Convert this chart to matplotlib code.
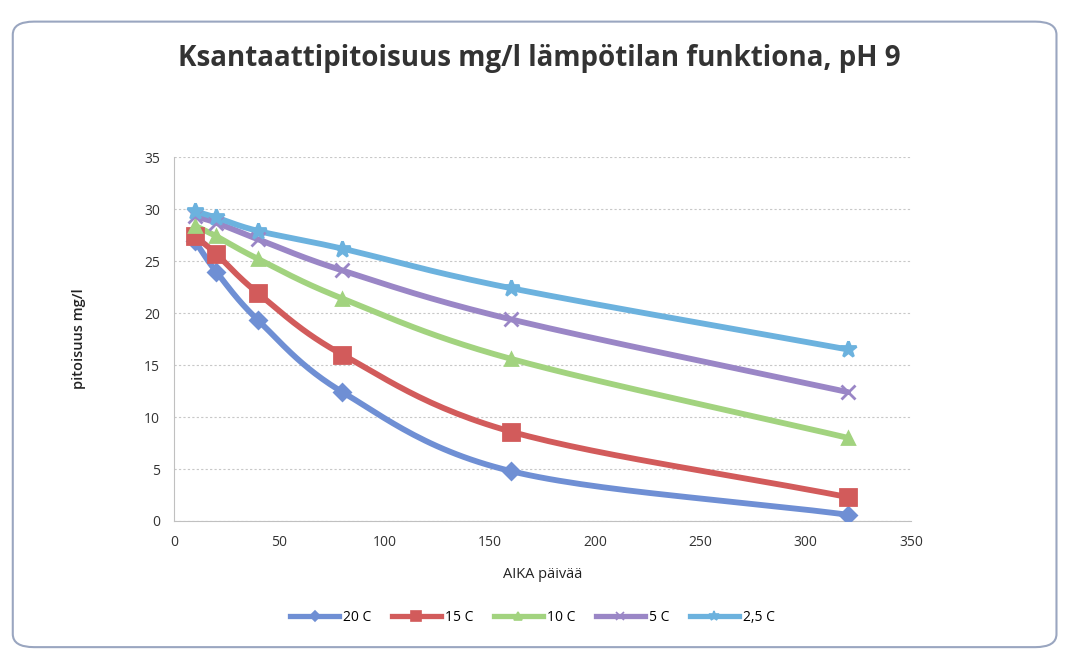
import numpy as np
import matplotlib
matplotlib.use("Agg")
import matplotlib.pyplot as plt
from matplotlib.patches import FancyBboxPatch
from matplotlib.lines import Line2D

plt.rcParams['font.family'] = ['Open Sans', 'DejaVu Sans']

# data
days = [10, 20, 40, 80, 160, 320]
labels = ["20 C", "15 C", "10 C", "5 C", "2,5 C"]
c20 = [26.9, 24.0, 19.3, 12.4, 4.8, 0.6]
c15 = [27.4, 25.7, 21.9, 16.0, 8.6, 2.3]
c10 = [28.4, 27.4, 25.2, 21.4, 15.6, 8.0]
c5 = [29.3, 28.7, 27.1, 24.1, 19.4, 12.4]
c2_5 = [29.8, 29.2, 27.9, 26.2, 22.4, 16.5]

series = [c20, c15, c10, c5, c2_5]
colors = ["#6f8fd4", "#d25b5b", "#a2d37f", "#9a86c6", "#6cb2de"]
markers = ["D", "s", "^", "x", "*"]
msizes = [8, 11, 9, 10, 12]


def smooth(x, y, n=30):
    # catmull-rom through the points, like excel smoothed lines
    x = np.asarray(x, float)
    y = np.asarray(y, float)
    px = np.concatenate([[2 * x[0] - x[1]], x, [2 * x[-1] - x[-2]]])
    py = np.concatenate([[2 * y[0] - y[1]], y, [2 * y[-1] - y[-2]]])
    xs, ys = [], []
    t = np.linspace(0, 1, n)
    for i in range(1, len(px) - 2):
        for p, out in ((px, xs), (py, ys)):
            p0, p1, p2, p3 = p[i - 1], p[i], p[i + 1], p[i + 2]
            out.extend(0.5 * ((2 * p1) + (-p0 + p2) * t
                              + (2 * p0 - 5 * p1 + 4 * p2 - p3) * t ** 2
                              + (-p0 + 3 * p1 - 3 * p2 + p3) * t ** 3))
    return xs, ys


fig = plt.figure(figsize=(10.65, 6.55), dpi=100)
fig.patches.append(FancyBboxPatch((0.012, 0.012), 0.98, 0.955,
                                  boxstyle="round,pad=0,rounding_size=0.02",
                                  transform=fig.transFigure, fill=False,
                                  edgecolor="#9aa6c0", linewidth=1.5))

ax = fig.add_axes([0.1634, 0.2046, 0.692, 0.5554])

handles = []
for vals, lab, col, mk, ms in zip(series, labels, colors, markers, msizes):
    sx, sy = smooth(days, vals)
    ax.plot(sx, sy, color=col, linewidth=4.2, solid_capstyle="round", zorder=2)
    ax.plot(days, vals, linestyle="none", marker=mk, markersize=ms,
            color=col, markeredgecolor=col, markeredgewidth=2, zorder=3)
    handles.append(Line2D([], [], color=col, linewidth=3.8, marker=mk,
                          markersize=ms * 0.6, markeredgewidth=1.2))

ax.set_xlim(0, 350)
ax.set_ylim(0, 35)
ax.set_xticks(range(0, 351, 50))
ax.set_yticks(range(0, 36, 5))
ax.grid(axis="y", color="#c8c8c8", linestyle=(0, (2, 2)), linewidth=0.8)
for s in ["top", "right"]:
    ax.spines[s].set_visible(False)
for s in ["left", "bottom"]:
    ax.spines[s].set_color("#c0c0c0")
ax.tick_params(length=0, labelsize=10, colors="#333333", pad=10)

ax.set_xlabel("AIKA päivää", fontsize=10.5, color="#222222", labelpad=12)
ax.set_ylabel("pitoisuus mg/l", fontsize=10.5, color="#222222", labelpad=42,
              fontweight="semibold")

fig.text(0.506, 0.91, "Ksantaattipitoisuus mg/l lämpötilan funktiona, pH 9",
         ha="center", va="center", fontsize=20, fontweight="bold",
         color="#333333")

fig.legend(handles, labels, loc="center", bbox_to_anchor=(0.5, 0.058),
           ncol=5, frameon=False, fontsize=10, handlelength=3.5,
           columnspacing=1.5, handletextpad=0.3)

fig.savefig("out.png", dpi=100)
